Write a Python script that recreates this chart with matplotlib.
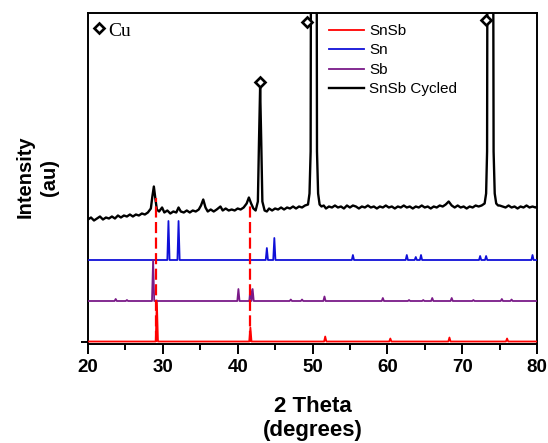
import matplotlib
matplotlib.use("Agg")
import matplotlib.pyplot as plt
from matplotlib.ticker import MultipleLocator
import numpy as np

plt.rcParams['font.family'] = ['Liberation Sans', 'DejaVu Sans']

# ---------------- data ----------------
# reference stick patterns: peak position (2theta) and relative height
snsb_pos = [29.2, 41.7, 51.7, 60.4, 68.3, 76.0]
snsb_int = [41, 14, 5, 3, 4, 3]

sn_pos = [30.75, 32.1, 43.9, 44.9, 55.4, 62.6, 63.8, 64.5, 72.4, 73.2, 79.4]
sn_int = [39, 39, 12, 22, 5, 5, 3, 5, 4, 4, 5]

sb_pos = [23.7, 25.2, 28.7, 40.1, 41.7, 42.0, 47.1, 48.6, 51.6, 59.4, 62.9,
          64.8, 66.0, 68.6, 71.5, 75.3, 76.6]
sb_int = [2, 1, 41, 12, 12, 12, 1.5, 1.5, 4.5, 3, 1, 1, 3, 3, 1, 2, 1.5]

# cycled SnSb measured pattern (2theta, intensity)
cyc_2theta = [20.0, 20.4, 20.8, 21.2, 21.6, 22.0, 22.4, 22.8, 23.2, 23.6, 24.0,
              24.4, 24.8, 25.2, 25.6, 26.0, 26.4, 26.8, 27.2, 27.6, 28.0, 28.4,
              28.6, 28.8, 29.0, 29.2, 29.5, 29.9, 30.2, 30.6, 31.0, 31.4, 31.8,
              32.1, 32.4, 32.8, 33.2, 33.6, 34.0, 34.4, 34.8, 35.1, 35.4, 35.7,
              36.0, 36.4, 36.8, 37.2, 37.7, 38.0, 38.4, 38.8, 39.2, 39.6, 40.0,
              40.4, 40.8, 41.2, 41.5, 41.8, 42.1, 42.4, 42.7, 42.85, 43.0, 43.15,
              43.3, 43.6, 43.9, 44.2, 44.6, 45.0, 45.4, 45.8, 46.2, 46.6, 47.0,
              47.4, 47.8, 48.2, 48.6, 49.0, 49.4, 49.6, 49.75, 49.8, 50.55, 50.6,
              50.75, 50.95, 51.2, 51.5, 51.8, 52.2, 52.6, 53.0, 53.4, 53.8, 54.2,
              54.6, 55.0, 55.4, 55.8, 56.2, 56.6, 57.0, 57.4, 57.8, 58.2, 58.6,
              59.0, 59.4, 59.8, 60.2, 60.6, 61.0, 61.4, 61.8, 62.2, 62.6, 63.0,
              63.4, 63.8, 64.2, 64.6, 65.0, 65.4, 65.8, 66.2, 66.6, 67.0, 67.4,
              67.8, 68.2, 68.6, 69.0, 69.4, 69.8, 70.2, 70.6, 71.0, 71.4, 71.8,
              72.2, 72.6, 73.0, 73.2, 73.33, 73.38, 74.14, 74.2, 74.35, 74.55,
              74.8, 75.0, 75.4, 75.8, 76.2, 76.6, 77.0, 77.4, 77.8, 78.2, 78.6,
              79.0, 79.4, 79.8, 80.0]
cyc_int = [122, 124, 121, 123, 125, 122, 124, 123, 125, 123, 126,
           124, 126, 125, 127, 125, 127, 126, 128, 127, 129, 133,
           145, 155, 143, 132, 130, 134, 129, 131, 128, 130, 129,
           134, 130, 129, 131, 129, 131, 130, 132, 136, 142, 134,
           130, 132, 130, 132, 135, 131, 133, 131, 132, 131, 133,
           132, 134, 138, 144, 138, 133, 131, 140, 200, 254, 200,
           140, 131, 130, 133, 131, 133, 132, 134, 132, 134, 133,
           135, 133, 135, 134, 136, 137, 148, 190, 420, 420, 190,
           148, 137, 135, 136, 133, 135, 134, 136, 134, 135, 133,
           136, 134, 136, 135, 133, 135, 134, 136, 134, 135, 133,
           135, 134, 136, 134, 135, 133, 135, 134, 136, 134, 135,
           133, 135, 134, 136, 134, 135, 133, 135, 134, 136, 135,
           137, 140, 136, 134, 136, 134, 135, 133, 135, 134, 136,
           135, 136, 138, 148, 190, 420, 420, 190, 148, 138,
           136, 136, 135, 134, 136, 134, 135, 133, 135, 134, 136,
           134, 135, 134, 135]

# Cu substrate peak markers
cu_pos = [43.0, 49.3, 73.2]
cu_mark = [260, 320, 322]

# red dashed guide lines (position, top)
guide_pos = [29.15, 41.7]
guide_top = [143.5, 136.5]

labels = ['SnSb', 'Sn', 'Sb', 'SnSb Cycled']

# ---------------- layout / style ----------------
offset_snsb, offset_sb, offset_sn = 0.0, 40.5, 81.5
half_w = 0.15


def stick_curve(pos, inten, base):
    xs, ys = [20.0], [base]
    for p, h in sorted(zip(pos, inten)):
        xs += [p - half_w, p, p + half_w]
        ys += [base, base + h, base]
    xs.append(80.0)
    ys.append(base)
    return np.array(xs), np.array(ys)


W, H = 548, 443
fig = plt.figure(figsize=(W / 100, H / 100), dpi=100)
ax = fig.add_axes([88 / W, 1 - 344 / H, (537 - 88) / W, (344 - 13) / H])

c_red = '#ff0000'
c_blue = '#1010d8'
c_purple = '#7a1a88'

x, y = stick_curve(snsb_pos, snsb_int, offset_snsb)
ax.plot(x, y, color=c_red, lw=1.3, label=labels[0], zorder=3)
x, y = stick_curve(sn_pos, sn_int, offset_sn)
ax.plot(x, y, color=c_blue, lw=1.3, label=labels[1], zorder=3)
x, y = stick_curve(sb_pos, sb_int, offset_sb)
ax.plot(x, y, color=c_purple, lw=1.3, label=labels[2], zorder=3)
ax.plot(cyc_2theta, cyc_int, color='black', lw=1.7, label=labels[3], zorder=3)

for p, t in zip(guide_pos, guide_top):
    ax.plot([p, p], [0, t], color=c_red, lw=1.6, dashes=(5, 2), zorder=4)

ax.plot(cu_pos, cu_mark, linestyle='none', marker='D', markersize=5.5,
        markerfacecolor='white', markeredgecolor='black', markeredgewidth=1.9,
        zorder=5, clip_on=False)

# Cu key
ax.plot([21.45], [314], linestyle='none', marker='D', markersize=5.5,
        markerfacecolor='white', markeredgecolor='black', markeredgewidth=1.9,
        zorder=5)
ax.text(22.75, 310.5, 'Cu', family=['Liberation Serif', 'DejaVu Serif'],
        fontsize=14, va='center', ha='left')

ax.set_xlim(20, 80)
ax.set_ylim(-2.5, 328.5)
ax.xaxis.set_major_locator(MultipleLocator(10))
ax.xaxis.set_minor_locator(MultipleLocator(5))
ax.set_yticks([0])
ax.set_yticklabels([''])
ax.tick_params(axis='x', which='major', direction='out', length=7, width=1.4,
               pad=4, labelsize=13.5)
ax.tick_params(axis='x', which='minor', direction='out', length=4, width=1.4)
ax.tick_params(axis='y', which='major', direction='out', length=5, width=1.4)
for lab in ax.get_xticklabels():
    lab.set_fontweight('bold')
for s in ax.spines.values():
    s.set_linewidth(1.4)

leg = ax.legend(loc='upper left', bbox_to_anchor=((329 - 88) / 449, 1 - (24 - 13) / 331),
                frameon=False, fontsize=11, handlelength=2.3, handletextpad=0.35,
                labelspacing=0.36, borderpad=0, borderaxespad=0)

fig.text(312.5 / W, 1 - 418.5 / H, '2 Theta\n(degrees)', fontsize=16,
         fontweight='bold', ha='center', va='center', linespacing=1.2)
fig.text(37 / W, 1 - 177 / H, 'Intensity\n(au)', fontsize=14.5,
         fontweight='bold', ha='center', va='center', rotation=90,
         linespacing=1.35)

fig.savefig('out.png', dpi=100)
